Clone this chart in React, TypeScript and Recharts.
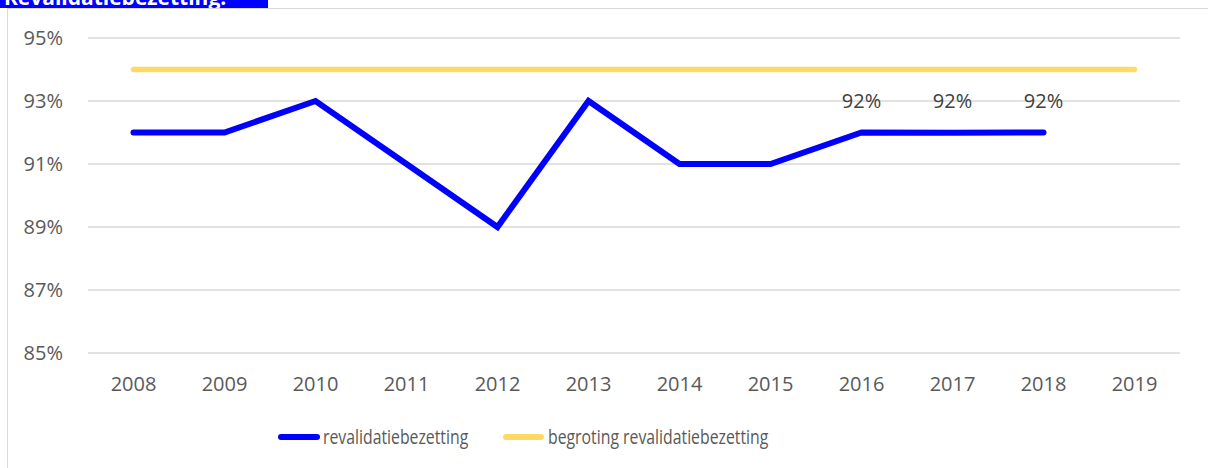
import React from "react";
import { LineChart, Line, XAxis, YAxis, CartesianGrid, Legend, LabelList } from "recharts";

const years = ["2008", "2009", "2010", "2011", "2012", "2013", "2014", "2015", "2016", "2017", "2018", "2019"];
const bezetting: (number | null)[] = [92, 92, 93, 91, 89, 93, 91, 91, 92, 91.99, 92, null];
const begroting = [94, 94, 94, 94, 94, 94, 94, 94, 94, 94, 94, 94];
const labelYears = ["2016", "2017", "2018"];
const yTicks = [85, 87, 89, 91, 93, 95];
const seriesNames = ["revalidatiebezetting", "begroting revalidatiebezetting"];

const data = years.map((y, i) => ({ year: y, bezetting: bezetting[i], begroting: begroting[i] }));

const TEXT = "#595959";
const FONT = "'Open Sans', sans-serif";

const legendText: React.CSSProperties = {
  position: "absolute",
  top: 0,
  fontFamily: FONT,
  fontSize: 20,
  lineHeight: "30px",
  color: TEXT,
  whiteSpace: "nowrap",
  transform: "scaleX(0.79)",
  transformOrigin: "left center",
};

const renderLegend = () => (
  <div style={{ position: "relative", height: 65, width: 1208 }}>
    <div style={{ position: "absolute", left: 0, top: 19, width: 1208, height: 30 }}>
      <span style={{ position: "absolute", left: 278, top: 12, width: 42, height: 6, borderRadius: 3, background: "#0000FF" }} />
      <span style={{ ...legendText, left: 323 }}>{seriesNames[0]}</span>
      <span style={{ position: "absolute", left: 503, top: 12, width: 41, height: 6, borderRadius: 3, background: "#FFD966" }} />
      <span style={{ ...legendText, left: 548 }}>{seriesNames[1]}</span>
    </div>
  </div>
);

const renderLabel = (props: any) => {
  const { x, y, index } = props;
  if (!labelYears.includes(years[index])) return null;
  return (
    <text x={x} y={y - 32} textAnchor="middle" dominantBaseline="central" fill="#404040" fontSize={20} fontFamily={FONT}>
      {Math.round(bezetting[index] as number)}%
    </text>
  );
};

export default function App() {
  return (
    <div style={{ position: "absolute", left: 0, top: 0, width: 1208, height: 468, overflow: "hidden", background: "#fff" }}>
      <div style={{ position: "absolute", left: 7, top: 8, width: 1300, height: 600, borderLeft: "1.5px solid #d9d9d9", borderTop: "1.5px solid #d9d9d9" }} />
      <svg width={268} height={8} style={{ position: "absolute", left: 0, top: 0 }}>
        <rect x={0} y={0} width={268} height={8} fill="#0000FF" />
        <text x={4} y={5} fill="#fff" fontWeight="bold" fontSize={21} fontFamily={FONT}>Revalidatiebezetting:</text>
      </svg>
      <div style={{ position: "absolute", left: 0, top: 0 }}>
        <LineChart width={1208} height={468} data={data} margin={{ top: 38, right: 28, left: 0, bottom: 0 }}>
          <CartesianGrid vertical={false} stroke="#d9d9d9" strokeWidth={1.5} />
          <XAxis dataKey="year" padding={{ left: 45.5, right: 45.5 }} axisLine={false} tickLine={false} tickSize={0} tickMargin={24} height={50} tick={{ fill: TEXT, fontSize: 20, fontFamily: FONT }} />
          <YAxis domain={[85, 95]} ticks={yTicks} width={88} axisLine={false} tickLine={false} tickSize={0} tickMargin={25} tickFormatter={(v: number) => `${v}%`} tick={{ fill: TEXT, fontSize: 20, fontFamily: FONT }} />
          <Legend verticalAlign="bottom" height={65} content={renderLegend} />
          <Line dataKey="begroting" stroke="#FFD966" strokeWidth={5.5} strokeLinecap="round" dot={false} activeDot={false} isAnimationActive={false} />
          <Line dataKey="bezetting" stroke="#0000FF" strokeWidth={6} strokeLinecap="round" strokeLinejoin="miter" dot={false} activeDot={false} isAnimationActive={false} connectNulls={false}>
            <LabelList dataKey="bezetting" content={renderLabel} />
          </Line>
        </LineChart>
      </div>
    </div>
  );
}
